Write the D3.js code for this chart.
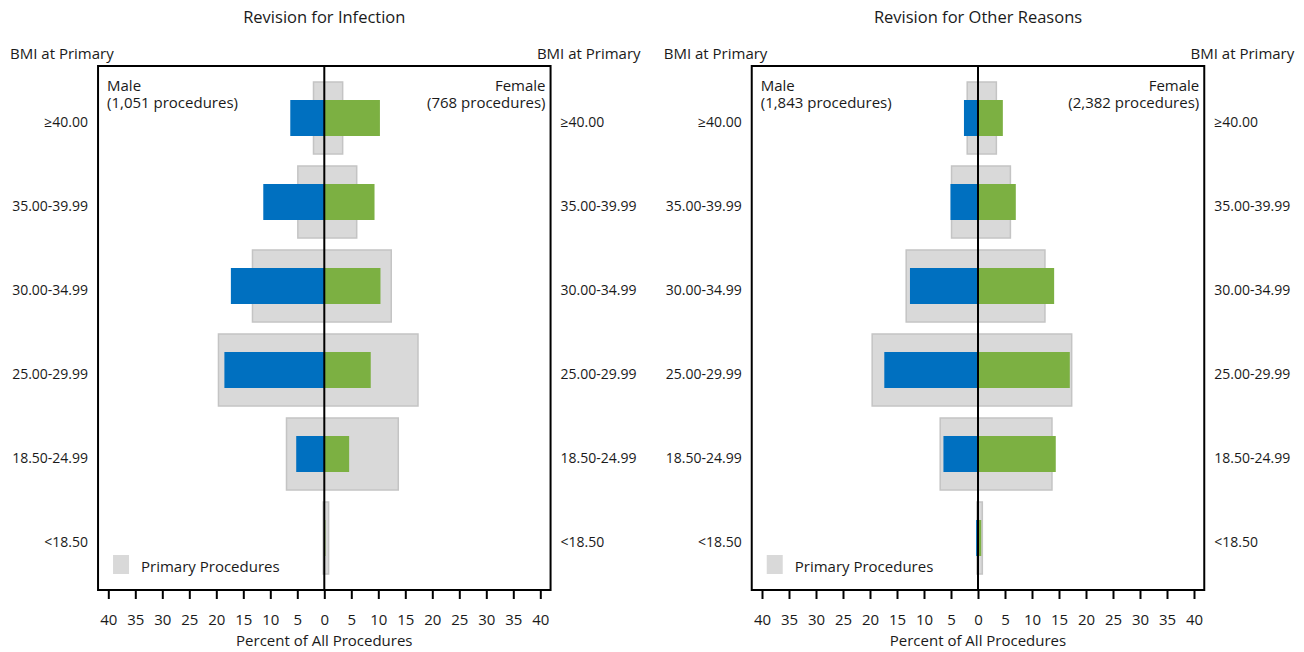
<!DOCTYPE html>
<html><head><meta charset="utf-8">
<script src="https://cdn.jsdelivr.net/npm/d3@7"></script>
<style>
body{margin:0;background:#fff;}
text{font-family:"Open Sans","Noto Sans",sans-serif;fill:#1a1a1a;}
</style></head>
<body><svg id="chart" width="1304" height="652"></svg>
<script>
const categories = ["≥40.00","35.00-39.99","30.00-34.99","25.00-29.99","18.50-24.99","<18.50"];
const primaryMale   = [2.0, 4.9, 13.3, 19.6, 7.0, 0.2];
const primaryFemale = [3.4, 6.0, 12.4, 17.35, 13.7, 0.8];
const infectionMale   = [6.3, 11.3, 17.3, 18.5, 5.2, 0.0];
const infectionFemale = [10.3, 9.3, 10.4, 8.6, 4.6, 0.2];
const otherMale   = [2.6, 5.1, 12.6, 17.35, 6.4, 0.35];
const otherFemale = [4.6, 7.0, 14.1, 17.0, 14.4, 0.6];
const tickValues = [-40,-35,-30,-25,-20,-15,-10,-5,0,5,10,15,20,25,30,35,40];
const panels = [
  {title:"Revision for Infection", male:infectionMale, female:infectionFemale, maleN:"(1,051 procedures)", femaleN:"(768 procedures)"},
  {title:"Revision for Other Reasons", male:otherMale, female:otherFemale, maleN:"(1,843 procedures)", femaleN:"(2,382 procedures)"}
];

const svg = d3.select("#chart");
const blue = "#0070c0", green = "#7cb042", grayFill = "#d9d9d9", grayStroke = "#c4c4c4";
const fs = 14, fl = 15;

panels.forEach((p, i) => {
  const zero = i === 0 ? 324.3 : 978;
  const x = d3.scaleLinear().domain([-40, 40]).range([zero - 216, zero + 216]);
  const fx0 = x(-41.9), fx1 = x(41.9);
  const top = 66, bottom = 590;
  const y = d3.scaleBand().domain(categories).range([76, 580]).padding(0);
  const g = svg.append("g");
  const c = y.bandwidth()/2;

  g.append("text").attr("x", zero).attr("y", 23).attr("text-anchor","middle")
    .style("font-size","16.5px").text(p.title);
  g.append("text").attr("x", fx0 - 88).attr("y", 59).style("font-size", fl+"px").text("BMI at Primary");
  g.append("text").attr("x", fx1 + 90).attr("y", 59).attr("text-anchor","end").style("font-size", fl+"px").text("BMI at Primary");

  const ph = 72, rh = 36;
  categories.forEach((cat, k) => {
    const yc = y(cat) + c;
    g.append("rect").attr("x", x(-primaryMale[k])).attr("y", yc - ph/2)
      .attr("width", x(primaryFemale[k]) - x(-primaryMale[k])).attr("height", ph)
      .attr("fill", grayFill).attr("stroke", grayStroke).attr("stroke-width", 1.5);
  });
  g.selectAll(".m").data(categories).enter().append("rect")
    .attr("x", (d,k) => x(-p.male[k])).attr("y", d => y(d) + c - rh/2)
    .attr("width", (d,k) => x(0) - x(-p.male[k])).attr("height", rh).attr("fill", blue);
  g.selectAll(".f").data(categories).enter().append("rect")
    .attr("x", x(0)).attr("y", d => y(d) + c - rh/2)
    .attr("width", (d,k) => x(p.female[k]) - x(0)).attr("height", rh).attr("fill", green);

  g.append("rect").attr("x", fx0).attr("y", top).attr("width", fx1 - fx0).attr("height", bottom - top)
    .attr("fill","none").attr("stroke","#000").attr("stroke-width",2);
  g.append("line").attr("x1", x(0)).attr("x2", x(0)).attr("y1", top).attr("y2", bottom)
    .attr("stroke","#000").attr("stroke-width",2);

  categories.forEach(cat => {
    const yc = y(cat) + c + 9;
    g.append("text").attr("x", fx0 - 10).attr("y", yc).attr("text-anchor","end").style("font-size", fs+"px").text(cat);
    g.append("text").attr("x", fx1 + 10).attr("y", yc).style("font-size", fs+"px").text(cat);
  });

  const mt = g.append("text").attr("x", fx0 + 9).attr("y", 91).style("font-size", fl+"px");
  mt.append("tspan").attr("x", fx0 + 9).attr("y", 91).text("Male");
  mt.append("tspan").attr("x", fx0 + 9).attr("y", 107.5).text(p.maleN);
  const ft = g.append("text").attr("x", fx1 - 5).attr("y", 91).attr("text-anchor","end").style("font-size", fl+"px");
  ft.append("tspan").attr("x", fx1 - 5).attr("y", 91).text("Female");
  ft.append("tspan").attr("x", fx1 - 5).attr("y", 107.5).text(p.femaleN);

  g.append("rect").attr("x", fx0 + 15).attr("y", 555).attr("width", 16).attr("height", 19).attr("fill", grayFill);
  g.append("text").attr("x", fx0 + 43).attr("y", 572).style("font-size", fl+"px").text("Primary Procedures");

  const ax = g.append("g").attr("transform", `translate(0,${bottom})`)
    .call(d3.axisBottom(x).tickValues(tickValues).tickSize(9).tickPadding(15).tickFormat(d => Math.abs(d)));
  ax.select(".domain").remove();
  ax.selectAll(".tick line").attr("stroke","#000").attr("stroke-width",2);
  ax.selectAll(".tick text").style("font-size", fl+"px").style("font-family",'"Open Sans","Noto Sans",sans-serif').attr("fill","#1a1a1a");
  g.append("text").attr("x", zero).attr("y", 646).attr("text-anchor","middle").style("font-size", fl+"px").text("Percent of All Procedures");
});
</script></body></html>
